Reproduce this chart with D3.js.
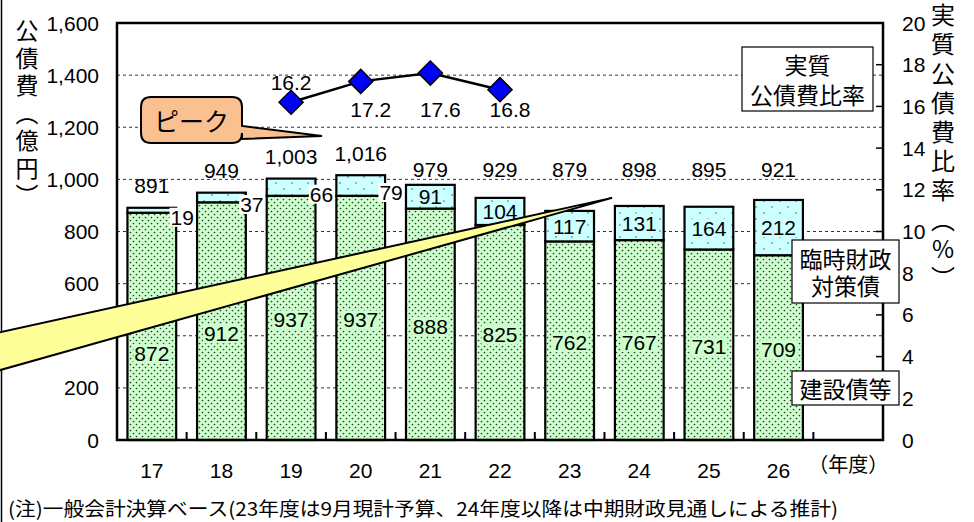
<!DOCTYPE html>
<html><head><meta charset="utf-8">
<script src="https://cdn.jsdelivr.net/npm/d3@7"></script>
<style>body{margin:0;background:#fff}svg{display:block}</style>
</head><body><svg id="c" width="974" height="522"></svg>
<script>
// ---------- data ----------
const years = ["17","18","19","20","21","22","23","24","25","26"];
const unitLabel = "（年度）";
const construction = [872,912,937,937,888,825,762,767,731,709];   // 建設債等
const tempDebt     = [19,37,66,79,91,104,117,131,164,212];        // 臨時財政対策債
const totals       = [891,949,1003,1016,979,929,879,898,895,921];
const ratioYears  = ["19","20","21","22"];
const ratioValues = [16.2,17.2,17.6,16.8];                         // 実質公債費比率 (%)
const leftTicks  = [0,200,400,600,800,1000,1200,1400,1600];
const rightTicks = [0,2,4,6,8,10,12,14,16,18,20];
const leftTitle  = "公債費（億円）";
const rightTitle = "実質公債費比率（%）";
const legendRatio = ["実質","公債費比率"];
const legendTemp  = ["臨時財政","対策債"];
const legendConst = ["建設債等"];
const peakText = "ピーク";
const noteText = "(注)一般会計決算ベース(23年度は9月現計予算、24年度以降は中期財政見通しによる推計)";

// ---------- layout ----------
const L = 117, R = 883, T = 23, B = 440;
const NUM = "'Liberation Sans', Arial, sans-serif";
const JP = "'Noto Sans CJK JP', sans-serif";
const svg = d3.select("#c");

const x = d3.scaleBand().domain([...years, unitLabel]).range([L, R]).paddingInner(0.3).paddingOuter(0.15);
const yL = d3.scaleLinear().domain([0, 1600]).range([B, T]);
const yR = d3.scaleLinear().domain([0, 20]).range([B, T]);
const xi = d3.scaleLinear().domain([0, x.domain().length]).range([L, R]); // category-index units
const cx = c => x(c) + x.bandwidth() / 2;

// patterns
const defs = svg.append("defs");
const pg = defs.append("pattern").attr("id", "pg").attr("patternUnits", "userSpaceOnUse").attr("width", 6).attr("height", 6);
pg.append("rect").attr("width", 6).attr("height", 6).attr("fill", "#ccffcc");
pg.append("circle").attr("cx", 1.5).attr("cy", 1.5).attr("r", 0.85).attr("fill", "#333");
pg.append("circle").attr("cx", 4.5).attr("cy", 4.5).attr("r", 0.85).attr("fill", "#333");
const pc = defs.append("pattern").attr("id", "pc").attr("patternUnits", "userSpaceOnUse").attr("width", 16).attr("height", 12);
pc.append("rect").attr("width", 16).attr("height", 12).attr("fill", "#ccffff");
pc.append("circle").attr("cx", 4).attr("cy", 3).attr("r", 0.8).attr("fill", "#555");
pc.append("circle").attr("cx", 12).attr("cy", 9).attr("r", 0.8).attr("fill", "#555");

// outer frame (left edge)
svg.append("line").attr("x1", 1.5).attr("x2", 1.5).attr("y1", 0).attr("y2", 522).attr("stroke", "#000").attr("stroke-width", 1.5);

// gridlines
svg.append("g").selectAll("line").data(leftTicks.filter(v => v > 0 && v < 1600)).join("line")
  .attr("x1", L).attr("x2", R).attr("y1", d => yL(d)).attr("y2", d => yL(d))
  .attr("stroke", "#333").attr("stroke-width", 1).attr("stroke-dasharray", "3,3");

// bars
const bars = svg.append("g");
years.forEach((yr, i) => {
  const bx = x(yr), bw = x.bandwidth();
  bars.append("rect").attr("x", bx).attr("width", bw)
    .attr("y", yL(construction[i])).attr("height", yL(0) - yL(construction[i]))
    .attr("fill", "url(#pg)").attr("stroke", "#000").attr("stroke-width", 2.2);
  bars.append("rect").attr("x", bx).attr("width", bw)
    .attr("y", yL(totals[i])).attr("height", yL(construction[i]) - yL(totals[i]))
    .attr("fill", "url(#pc)").attr("stroke", "#000").attr("stroke-width", 2.2);
});

// callout geometry (yellow band) in chart units
const bandTip = [xi(7.11), yL(929)];
const bandUp = [xi(-1.71), yL(412)];
const bandLo = [xi(-1.71), yL(266)];
const bandLowerAt = px => bandLo[1] + (bandTip[1] - bandLo[1]) * (px - bandLo[0]) / (bandTip[0] - bandLo[0]);

function label(g, px, py, txt, o = {}) {
  const t = g.append("text").attr("x", px).attr("y", py)
    .attr("text-anchor", o.anchor || "middle").attr("dominant-baseline", "central")
    .style("font-family", o.font || NUM).style("font-size", (o.size || 21) + "px")
    .attr("fill", "#000").text(txt);
  if (o.bg) {
    const bb = t.node().getBBox();
    g.insert("rect", () => t.node()).attr("x", bb.x - 1).attr("y", bb.y + 2)
      .attr("width", bb.width + 2).attr("height", bb.height - 4).attr("fill", o.bg);
  }
  return t;
}

const labs = svg.append("g");
years.forEach((yr, i) => {
  const c = cx(yr);
  const mid = yL(construction[i] / 2);
  label(labs, c, Math.max(mid + 2, bandLowerAt(c) + 26), construction[i], { bg: "#ccffcc" });
  const tmid = yL(construction[i] + tempDebt[i] / 2);
  const inside = tempDebt[i] >= 80;
  if (inside) label(labs, c, tmid, tempDebt[i], { bg: "#ccffff" });
  else label(labs, x(yr) + x.bandwidth() + 6, tmid + 7, tempDebt[i], { bg: "#fff" });
  const ty = inside ? yL(1000) - 10 : yL(totals[i]) - 22;
  label(labs, c, ty, d3.format(",")(totals[i]));
});

// plot frame
svg.append("rect").attr("x", L).attr("y", T).attr("width", R - L).attr("height", B - T)
  .attr("fill", "none").attr("stroke", "#000").attr("stroke-width", 2.5);

// bottom ticks between categories
svg.append("g").selectAll("line").data(d3.range(1, x.domain().length)).join("line")
  .attr("x1", d => xi(d)).attr("x2", d => xi(d)).attr("y1", B - 8).attr("y2", B)
  .attr("stroke", "#000").attr("stroke-width", 2);
// right axis ticks
svg.append("g").selectAll("line").data(rightTicks).join("line")
  .attr("x1", R - 7).attr("x2", R).attr("y1", d => yR(d)).attr("y2", d => yR(d))
  .attr("stroke", "#000").attr("stroke-width", 1.5);

// category labels
const catG = svg.append("g");
years.forEach(yr => label(catG, cx(yr), 470, yr));
label(catG, cx(unitLabel), 463, unitLabel, { font: JP, size: 20 });

// right tick labels
const rg = svg.append("g");
rightTicks.forEach(v => label(rg, 902, yR(v), v, { anchor: "start" }));

// ratio line
const line = d3.line().x((d, i) => cx(ratioYears[i])).y(d => yR(d));
svg.append("path").datum(ratioValues).attr("d", line).attr("fill", "none").attr("stroke", "#000").attr("stroke-width", 2.5);
svg.append("g").selectAll("path").data(ratioValues).join("path")
  .attr("d", d3.symbol(d3.symbolSquare, 290))
  .attr("transform", (d, i) => `translate(${cx(ratioYears[i])},${yR(d)}) rotate(45)`)
  .attr("fill", "#0000ff").attr("stroke", "#000").attr("stroke-width", 1.5);
const rl = svg.append("g");
const belowY = yR(d3.min(ratioValues)) + 7;
ratioValues.forEach((v, i) => {
  if (i === 0) label(rl, cx(ratioYears[i]), yR(v) - 20, v.toFixed(1));
  else label(rl, cx(ratioYears[i]) + 10, belowY, v.toFixed(1));
});

// legend boxes (one HTML block per box)
function box(x0, y0, w, h, lines, lh) {
  const g = svg.append("g");
  g.append("rect").attr("x", x0).attr("y", y0).attr("width", w).attr("height", h)
    .attr("fill", "#fff").attr("stroke", "#000").attr("stroke-width", 1.2);
  const fo = g.append("foreignObject").attr("x", x0).attr("y", y0).attr("width", w).attr("height", h);
  fo.append("xhtml:div")
    .style("width", w + "px").style("height", h + "px")
    .style("display", "flex").style("align-items", "center").style("justify-content", "center")
    .style("text-align", "center").style("font-family", JP).style("font-size", "23px")
    .style("line-height", lh + "px").style("color", "#000")
    .html(lines.join("<br>"));
}
box(742, 47, 131, 64, legendRatio, 30);
box(792, 240, 107, 63, legendTemp, 27);
box(792, 371, 107, 34, legendConst, 27);

// left tick labels
const lg = svg.append("g");
leftTicks.forEach(v => label(lg, 99, yL(v), d3.format(",")(v), { anchor: "end" }));

// peak callout
{
  const x0 = xi(0.345), x1 = xi(1.795), y0 = yL(1316), y1 = yL(1140), r = 10;
  const tip = [xi(2.944), yL(1166)], a = yL(1205), b = yL(1155);
  const p = `M${x0 + r},${y0} H${x1 - r} Q${x1},${y0} ${x1},${y0 + r} V${a} L${tip[0]},${tip[1]} L${x1},${b} V${y1 - r} Q${x1},${y1} ${x1 - r},${y1} H${x0 + r} Q${x0},${y1} ${x0},${y1 - r} V${y0 + r} Q${x0},${y0} ${x0 + r},${y0} Z`;
  svg.append("path").attr("d", p).attr("fill", "#fac090").attr("stroke", "#000").attr("stroke-width", 2);
  label(svg, (x0 + x1) / 2, (y0 + y1) / 2, peakText, { font: JP, size: 25 });
}
// yellow band callout
svg.append("path").attr("d", `M${bandTip[0]},${bandTip[1]} L${bandUp[0]},${bandUp[1]} L${bandLo[0]},${bandLo[1]} Z`)
  .attr("fill", "#ffff99").attr("stroke", "#000").attr("stroke-width", 2).attr("stroke-linejoin", "miter");

// axis titles (vertical, one text each)
function vtitle(px, py, txt, size, gap) {
  svg.append("text").attr("x", px).attr("y", py)
    .style("writing-mode", "vertical-rl").style("text-orientation", "upright")
    .style("font-family", JP).style("font-size", size + "px").style("letter-spacing", gap + "px")
    .text(txt);
}
vtitle(27, 19, leftTitle, 23, 4.5);
vtitle(943, 3, rightTitle, 24, 5.2);

// note
svg.append("text").attr("x", 8).attr("y", 507).attr("dominant-baseline", "central")
  .attr("textLength", 830).attr("lengthAdjust", "spacingAndGlyphs")
  .style("font-family", JP).style("font-size", "19px").text(noteText);
</script></body></html>
